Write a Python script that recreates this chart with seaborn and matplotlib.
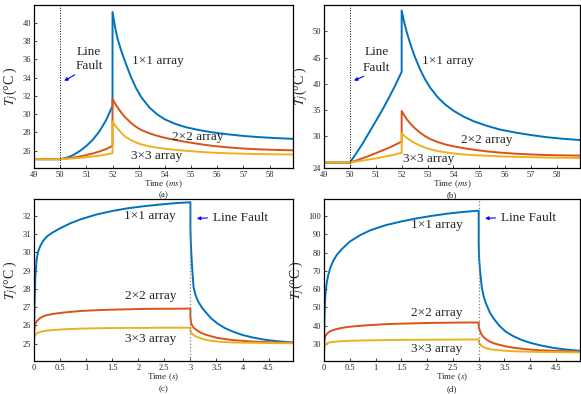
import matplotlib
matplotlib.use('Agg')
import matplotlib.pyplot as plt
import seaborn as sns
import pandas as pd

# %% data
series_names = ['1x1', '2x2', '3x3']
line_colors = ['#0072BD', '#D95319', '#EDB120']

# (a) and (b): line fault, time in ms
t_ms = [49, 50, 50.25, 50.5, 50.75, 51, 51.25, 51.5, 51.75, 52, 52, 52.1, 52.2, 52.35, 52.5,
        52.7, 52.9, 53.1, 53.4, 53.7, 54.0, 54.4, 54.8, 55.3, 55.8, 56.4, 57.0, 57.6, 58.2, 58.9]

blue_a = [25.05, 25.05, 25.2, 25.5, 25.95, 26.5, 27.2, 28.1, 29.3, 30.9, 41.2, 39.5, 38.2, 36.8, 35.6,
          34.1, 32.85, 31.85, 30.75, 29.98, 29.42, 28.92, 28.56, 28.25, 28.0, 27.78, 27.6, 27.47, 27.37, 27.28]
orange_a = [25.05, 25.05, 25.12, 25.22, 25.35, 25.5, 25.68, 25.9, 26.15, 26.5, 31.7, 31.15, 30.7, 30.1, 29.6,
            29.05, 28.6, 28.25, 27.9, 27.62, 27.4, 27.15, 26.95, 26.72, 26.52, 26.35, 26.22, 26.13, 26.07, 26.02]
yellow_a = [25.05, 25.05, 25.09, 25.14, 25.2, 25.27, 25.35, 25.44, 25.56, 25.7, 29.2, 28.75, 28.4, 27.9, 27.5,
            27.15, 26.88, 26.67, 26.46, 26.31, 26.2, 26.07, 25.97, 25.86, 25.77, 25.7, 25.65, 25.61, 25.58, 25.56]

blue_b = [25.0, 25.0, 26.8, 28.7, 30.8, 32.9, 35.0, 37.3, 39.7, 42.3, 54.0, 51.7, 49.8, 47.4, 45.3,
          42.9, 40.9, 39.3, 37.4, 36.0, 34.9, 33.75, 32.85, 32.0, 31.3, 30.72, 30.25, 29.85, 29.55, 29.3]
orange_b = [25.0, 25.0, 25.4, 25.85, 26.3, 26.8, 27.3, 27.8, 28.4, 29.0, 34.85, 34.0, 33.25, 32.35, 31.6,
            30.75, 30.05, 29.5, 28.9, 28.45, 28.1, 27.75, 27.45, 27.13, 26.9, 26.7, 26.55, 26.45, 26.38, 26.33]
yellow_b = [25.0, 25.0, 25.2, 25.4, 25.6, 25.8, 26.05, 26.3, 26.55, 26.87, 30.64, 30.1, 29.7, 29.2, 28.75,
            28.25, 27.85, 27.55, 27.2, 26.95, 26.75, 26.55, 26.42, 26.3, 26.2, 26.1, 26.02, 25.96, 25.92, 25.88]

# (c) and (d): time in s
t_s = [0, 0.01, 0.025, 0.05, 0.08, 0.12, 0.18, 0.25, 0.35, 0.5, 0.7, 0.9, 1.2, 1.5, 1.8, 2.1, 2.4, 2.7, 3.0,
       3.0, 3.01, 3.03, 3.06, 3.1, 3.15, 3.22, 3.3, 3.4, 3.52, 3.66, 3.82, 4.0, 4.2, 4.45, 4.7, 4.97]

blue_c = [25.3, 27.0, 28.6, 29.6, 30.05, 30.35, 30.65, 30.88, 31.08, 31.32, 31.6, 31.82, 32.08, 32.27, 32.42,
          32.53, 32.62, 32.7, 32.75,
          31.3, 30.4, 29.3, 28.1, 27.65, 27.3, 26.98, 26.7, 26.38, 26.1, 25.85, 25.65, 25.47, 25.33, 25.2, 25.12, 25.06]
orange_c = [25.5, 25.85, 26.1, 26.22, 26.3, 26.4, 26.5, 26.56, 26.62, 26.68, 26.74, 26.79, 26.83, 26.86, 26.88,
            26.9, 26.91, 26.91, 26.92,
            26.5, 26.2, 26.0, 25.88, 25.78, 25.68, 25.57, 25.48, 25.4, 25.31, 25.25, 25.19, 25.15, 25.11, 25.08, 25.06, 25.05]
yellow_c = [25.2, 25.35, 25.47, 25.55, 25.6, 25.64, 25.68, 25.71, 25.74, 25.77, 25.8, 25.82, 25.84, 25.85, 25.86,
            25.86, 25.87, 25.87, 25.87,
            25.72, 25.62, 25.55, 25.47, 25.4, 25.34, 25.27, 25.2, 25.15, 25.11, 25.08, 25.06, 25.05, 25.04, 25.03, 25.02, 25.02]

blue_d = [30.0, 46.0, 56.0, 63.0, 67.5, 71.5, 75.5, 78.8, 82.0, 86.0, 89.5, 92.2, 95.0, 97.0, 98.7,
          100.1, 101.3, 102.2, 102.9,
          85.0, 76.0, 69.0, 61.0, 55.5, 51.5, 47.0, 43.5, 40.0, 36.8, 34.4, 32.3, 30.6, 29.2, 27.8, 26.9, 26.2]
orange_d = [27.0, 32.5, 34.2, 35.3, 36.2, 36.9, 37.6, 38.2, 38.8, 39.4, 39.9, 40.3, 40.8, 41.1, 41.3,
            41.5, 41.6, 41.7, 41.7,
            39.5, 38.3, 36.8, 35.0, 33.6, 32.4, 31.2, 30.3, 29.5, 28.7, 28.0, 27.4, 26.9, 26.5, 26.2, 26.0, 25.8]
yellow_d = [25.5, 28.3, 29.4, 30.2, 30.6, 30.9, 31.1, 31.3, 31.5, 31.7, 31.85, 31.95, 32.1, 32.2, 32.25,
            32.3, 32.35, 32.4, 32.4,
            31.2, 30.5, 29.7, 28.8, 28.1, 27.6, 27.1, 26.8, 26.5, 26.25, 26.0, 25.85, 25.72, 25.62, 25.52, 25.45, 25.4]

# %% style
sns.set_style('ticks')
plt.rcParams['font.family'] = ['Liberation Serif', 'DejaVu Serif']
plt.rcParams['mathtext.fontset'] = 'stix'
plt.rcParams['xtick.direction'] = 'in'
plt.rcParams['ytick.direction'] = 'in'
plt.rcParams['axes.linewidth'] = 0.9
plt.rcParams['axes.edgecolor'] = 'black'

fig = plt.figure(figsize=(5.81, 3.94), dpi=100)
ax_a = fig.add_axes([0.0585, 0.574, 0.446, 0.414])
ax_b = fig.add_axes([0.5577, 0.574, 0.441, 0.414])
ax_c = fig.add_axes([0.0585, 0.084, 0.446, 0.411])
ax_d = fig.add_axes([0.5577, 0.084, 0.441, 0.411])


def draw(ax, t, blue, orange, yellow):
    df = pd.DataFrame({
        'Time': t * 3,
        'Tj': blue + orange + yellow,
        'array': [series_names[0]] * len(t) + [series_names[1]] * len(t) + [series_names[2]] * len(t),
    })
    sns.lineplot(data=df, x='Time', y='Tj', hue='array', hue_order=series_names,
                 palette=line_colors, sort=False, estimator=None, legend=False,
                 linewidth=1.4, ax=ax)
    for s in ['top', 'right', 'left', 'bottom']:
        ax.spines[s].set_visible(True)
    ax.tick_params(axis='both', labelsize=6, length=2.5, width=0.6, pad=2,
                   top=False, right=False)
    ax.set_ylabel(r'$T_j$(°C )', fontsize=10, labelpad=2)


draw(ax_a, t_ms, blue_a, orange_a, yellow_a)
draw(ax_b, t_ms, blue_b, orange_b, yellow_b)
draw(ax_c, t_s, blue_c, orange_c, yellow_c)
draw(ax_d, t_s, blue_d, orange_d, yellow_d)

ms_ticks = [49, 50, 51, 52, 53, 54, 55, 56, 57, 58]
s_ticks = [0, 0.5, 1, 1.5, 2, 2.5, 3, 3.5, 4, 4.5]
s_labels = ['0', '0.5', '1', '1.5', '2', '2.5', '3', '3.5', '4', '4.5']

for ax, cap in [(ax_a, '(a)'), (ax_b, '(b)')]:
    ax.set_xlim(49, 58.9)
    ax.set_xticks(ms_ticks)
    ax.set_xlabel(r'Time ($ms$)', fontsize=6.5, labelpad=0)
    ax.axvline(50, color='black', ls=':', lw=0.7)
    ax.text(0.5, -0.168, cap, transform=ax.transAxes, ha='center', va='center', fontsize=6.5)

for ax, cap in [(ax_c, '(c)'), (ax_d, '(d)')]:
    ax.set_xlim(0, 4.97)
    ax.set_xticks(s_ticks)
    ax.set_xticklabels(s_labels)
    ax.set_xlabel(r'Time ($s$)', fontsize=6.5, labelpad=0)
    ax.axvline(3, color='gray', ls=':', lw=0.9)
    ax.text(0.5, -0.172, cap, transform=ax.transAxes, ha='center', va='center', fontsize=6.5)

ax_a.set_ylim(24.1, 42)
ax_a.set_yticks([26, 28, 30, 32, 34, 36, 38, 40])
ax_b.set_ylim(24, 55.1)
ax_b.set_yticks([24, 30, 35, 40, 45, 50])
ax_c.set_ylim(24.05, 32.93)
ax_c.set_yticks([25, 26, 27, 28, 29, 30, 31, 32])
ax_d.set_ylim(20.7, 109.3)
ax_d.set_yticks([30, 40, 50, 60, 70, 80, 90, 100])

# annotations
txt = dict(fontsize=9.5, ha='center', va='center')
arrow = dict(arrowstyle='-|>', color='blue', lw=0.8, mutation_scale=5)

ax_a.text(51.1, 36.85, 'Line', **txt)
ax_a.text(51.1, 35.25, 'Fault', **txt)
ax_a.annotate('', xy=(50.06, 33.5), xytext=(50.65, 34.45), arrowprops=arrow)
ax_a.text(53.74, 35.87, '1×1 array', **txt)
ax_a.text(55.27, 27.46, '2×2 array', **txt)
ax_a.text(53.68, 25.37, '3×3 array', **txt)

ax_b.text(51.03, 46.05, 'Line', **txt)
ax_b.text(51.03, 43.1, 'Fault', **txt)
ax_b.annotate('', xy=(50.06, 40.4), xytext=(50.63, 41.7), arrowprops=arrow)
ax_b.text(53.8, 44.4, '1×1 array', **txt)
ax_b.text(55.27, 29.4, '2×2 array', **txt)
ax_b.text(53.04, 25.6, '3×3 array', **txt)

ax_c.text(2.23, 32.02, '1×1 array', **txt)
ax_c.text(2.23, 27.59, '2×2 array', **txt)
ax_c.text(2.23, 25.27, '3×3 array', **txt)
ax_c.annotate('', xy=(3.07, 31.85), xytext=(3.38, 31.9), arrowprops=arrow)
ax_c.text(3.44, 31.87, 'Line Fault', fontsize=9.5, ha='left', va='center')

ax_d.text(2.18, 95.1, '1×1 array', **txt)
ax_d.text(2.18, 47.1, '2×2 array', **txt)
ax_d.text(2.18, 27.3, '3×3 array', **txt)
ax_d.annotate('', xy=(3.07, 98.6), xytext=(3.38, 99.0), arrowprops=arrow)
ax_d.text(3.44, 98.7, 'Line Fault', fontsize=9.5, ha='left', va='center')

fig.savefig('out.png', dpi=100)
